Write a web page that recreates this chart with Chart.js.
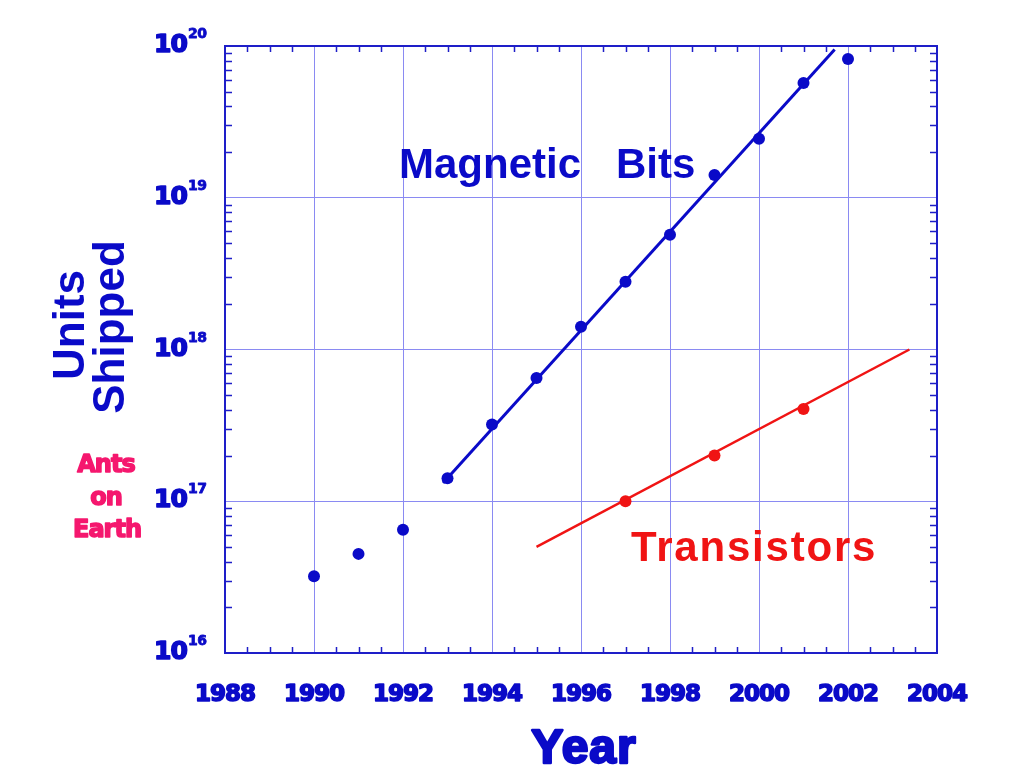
<!DOCTYPE html>
<html>
<head>
<meta charset="utf-8">
<script src="https://cdn.jsdelivr.net/npm/chart.js@4.4.0/dist/chart.umd.min.js"></script>
<style>
  html, body { margin: 0; padding: 0; background: #ffffff; }
  #wrap { width: 1024px; height: 768px; position: relative; }
</style>
</head>
<body>
<div id="wrap"><canvas id="c" width="1024" height="768"></canvas></div>
<script>
// ---- Data ----
const bitYears  = [1990, 1991, 1992, 1993, 1994, 1995, 1996, 1997, 1998, 1999, 2000, 2001, 2002];
const bitUnits  = [3.2e16, 4.5e16, 6.5e16, 1.42e17, 3.2e17, 6.5e17, 1.41e18, 2.8e18, 5.7e18, 1.41e19, 2.45e19, 5.7e19, 8.2e19];
const bitFitYears = [1992.9, 2001.7];
const bitFitUnits = [1.32e17, 9.5e19];

const trYears  = [1997, 1999, 2001];
const trUnits  = [1.0e17, 2.0e17, 4.05e17];
const trFitYears = [1995, 2003.38];
const trFitUnits = [5.0e16, 1.0e18];

const xTickYears = [1988, 1990, 1992, 1994, 1996, 1998, 2000, 2002, 2004];
const yTickExps  = [16, 17, 18, 19, 20];

const BLUE = '#0a0ac8';
const RED = '#f01414';
const PINK = '#f5176e';
const GRID = '#8a8af2';
const BORDER = '#1e1ec8';

function pts(xs, ys) { return xs.map((x, i) => ({ x: x, y: ys[i] })); }

function heavyText(ctx, txt, x, y, w) {
  ctx.lineWidth = w;
  ctx.lineJoin = 'round';
  ctx.strokeText(txt, x, y);
  ctx.fillText(txt, x, y);
}

const deco = {
  id: 'deco',
  afterDraw(chart) {
    const ctx = chart.ctx;
    const a = chart.chartArea;
    const xs = chart.scales.x, ys = chart.scales.y;
    ctx.save();
    // minor ticks
    ctx.strokeStyle = BORDER;
    ctx.lineWidth = 1.5;
    ctx.beginPath();
    for (let e = 16; e < 20; e++) {
      for (let m = 2; m <= 9; m++) {
        const py = Math.round(ys.getPixelForValue(m * Math.pow(10, e))) + 0.5;
        ctx.moveTo(a.left, py); ctx.lineTo(a.left + 7, py);
        ctx.moveTo(a.right, py); ctx.lineTo(a.right - 7, py);
      }
    }
    for (let yr = 1988.5; yr < 2004; yr += 0.5) {
      if (Math.abs((yr - 1988) % 2) < 1e-9) continue;
      const px = Math.round(xs.getPixelForValue(yr)) + 0.5;
      ctx.moveTo(px, a.bottom); ctx.lineTo(px, a.bottom - 6);
      ctx.moveTo(px, a.top); ctx.lineTo(px, a.top + 6);
    }
    ctx.stroke();
    // frame
    ctx.lineWidth = 2;
    ctx.strokeRect(a.left, a.top, a.right - a.left, a.bottom - a.top);

    // y tick labels 10^n
    ctx.fillStyle = BLUE;
    ctx.strokeStyle = BLUE;
    ctx.textBaseline = 'alphabetic';
    yTickExps.forEach(e => {
      const py = ys.getPixelForValue(Math.pow(10, e));
      ctx.font = 'bold 25px "DejaVu Sans"';
      ctx.textAlign = 'left';
      ctx.letterSpacing = '-1px';
      heavyText(ctx, '10', 154, py + 6, 1.6);
      ctx.font = 'bold 14px "DejaVu Sans"';
      ctx.letterSpacing = '-0.5px';
      heavyText(ctx, String(e), 188, py - 8, 0.8);
    });
    // x tick labels
    ctx.font = 'bold 23px "DejaVu Sans"';
    ctx.letterSpacing = '-1px';
    ctx.textAlign = 'center';
    xTickYears.forEach(yr => {
      heavyText(ctx, String(yr), xs.getPixelForValue(yr), 701, 1.6);
    });
    ctx.letterSpacing = '0px';

    // axis titles
    ctx.font = 'bold 48px "Liberation Sans"';
    ctx.letterSpacing = '1px';
    heavyText(ctx, 'Year', 584, 763, 2.5);
    ctx.letterSpacing = '0px';

    ctx.font = 'bold 44px "Liberation Sans"';
    ctx.save(); ctx.translate(84, 325); ctx.rotate(-Math.PI / 2);
    ctx.fillText('Units', 0, 0); ctx.restore();
    ctx.save(); ctx.translate(124, 327); ctx.rotate(-Math.PI / 2);
    ctx.fillText('Shipped', 0, 0); ctx.restore();

    // series labels
    ctx.textAlign = 'left';
    ctx.font = 'bold 42px "Liberation Sans"';
    ctx.fillText('Magnetic   Bits', 399, 178);
    ctx.fillStyle = RED;
    ctx.letterSpacing = '1.8px';
    ctx.fillText('Transistors', 631, 561);
    ctx.letterSpacing = '0px';

    // Ants on Earth
    ctx.fillStyle = PINK;
    ctx.strokeStyle = PINK;
    ctx.textAlign = 'center';
    ctx.font = 'bold 24px "DejaVu Sans"';
    ctx.letterSpacing = '-1px';
    heavyText(ctx, 'Ants', 106, 472, 1.5);
    heavyText(ctx, 'on', 106, 505, 1.5);
    heavyText(ctx, 'Earth', 107, 537, 1.5);
    ctx.letterSpacing = '0px';
    ctx.restore();
  }
};

new Chart(document.getElementById('c'), {
  type: 'scatter',
  data: {
    datasets: [
      { data: pts(bitFitYears, bitFitUnits), showLine: true, borderColor: BLUE, borderWidth: 3, pointRadius: 0, fill: false },
      { data: pts(trFitYears, trFitUnits), showLine: true, borderColor: RED, borderWidth: 2.5, pointRadius: 0, fill: false },
      { data: pts(bitYears, bitUnits), showLine: false, pointRadius: 6, pointBackgroundColor: BLUE, pointBorderColor: BLUE, pointBorderWidth: 0 },
      { data: pts(trYears, trUnits), showLine: false, pointRadius: 6, pointBackgroundColor: RED, pointBorderColor: RED, pointBorderWidth: 0 }
    ]
  },
  options: {
    responsive: false,
    animation: false,
    devicePixelRatio: 1,
    layout: { padding: { left: 225, right: 87, top: 46, bottom: 115 } },
    plugins: { legend: { display: false }, tooltip: { enabled: false }, title: { display: false } },
    scales: {
      x: {
        type: 'linear', min: 1988, max: 2004,
        afterBuildTicks: s => { s.ticks = xTickYears.map(v => ({ value: v })); },
        ticks: { display: false },
        grid: { color: GRID, lineWidth: 1, drawTicks: false },
        border: { display: false }
      },
      y: {
        type: 'logarithmic', min: 1e16, max: 1e20,
        afterBuildTicks: s => { s.ticks = yTickExps.map(e => ({ value: Math.pow(10, e) })); },
        ticks: { display: false },
        grid: { color: GRID, lineWidth: 1, drawTicks: false },
        border: { display: false }
      }
    }
  },
  plugins: [deco]
});
</script>
</body>
</html>
